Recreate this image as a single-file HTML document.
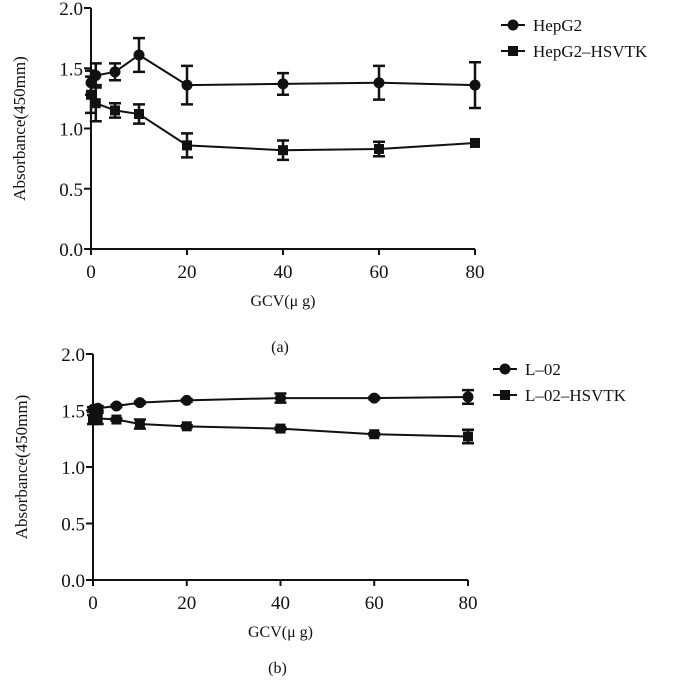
<!DOCTYPE html>
<html><head><meta charset="utf-8"><style>
body{margin:0;background:#fff;width:700px;height:691px;overflow:hidden}
svg text{font-family:"Liberation Serif",serif;fill:#111}
</style></head><body>
<svg id="chart" width="700" height="691"></svg>
<script>
const xs=[0,1,5,10,20,40,60,80];
const aHep=[1.38,1.44,1.47,1.61,1.36,1.37,1.38,1.36];
const aHepErr=[0.1,0.1,0.07,0.14,0.16,0.09,0.14,0.19];
const aTk=[1.28,1.21,1.15,1.12,0.86,0.82,0.83,0.88];
const aTkErr=[0.15,0.15,0.06,0.08,0.1,0.08,0.06,0];
const bL=[1.51,1.52,1.54,1.57,1.59,1.61,1.61,1.62];
const bLErr=[0.02,0.02,0.01,0.01,0.01,0.04,0.01,0.06];
const bTk=[1.42,1.43,1.42,1.38,1.36,1.34,1.29,1.27];
const bTkErr=[0.04,0.05,0.01,0.04,0.01,0.01,0.01,0.06];
const xTicks=[0,20,40,60,80];
const yTicks=[0,0.5,1.0,1.5,2.0];
const NS="http://www.w3.org/2000/svg";
const svg=document.getElementById('chart');
function el(tag,attrs,parent){const e=document.createElementNS(NS,tag);for(const k in attrs)e.setAttribute(k,attrs[k]);(parent||svg).appendChild(e);return e;}
function panel(p){
  const g=el('g',{});
  
  
  const X=v=>p.x0+(p.x1-p.x0)*v/80, Y=v=>p.y0+(p.y1-p.y0)*v/2;
  const ax=el('path',{d:`M${p.x0},${p.y1}V${p.y0}H${p.x1}`,stroke:'#111','stroke-width':2,fill:'none'},g);
  
  
  yTicks.forEach(t=>{el('line',{x1:p.x0-7,x2:p.x0,y1:Y(t),y2:Y(t),stroke:'#111','stroke-width':2},g);
    const tx=el('text',{x:p.x0-8,y:Y(t)+7,'text-anchor':'end','font-size':19},g);tx.textContent=t.toFixed(1);
    
    });
  xTicks.forEach(t=>{el('line',{x1:X(t),x2:X(t),y1:p.y0,y2:p.y0+6,stroke:'#111','stroke-width':2},g);
    const tx=el('text',{x:X(t),y:p.y0+29,'text-anchor':'middle','font-size':19},g);tx.textContent=t;
    
    });
  const yt=el('text',{transform:`translate(${p.x0-66},${(p.y0+p.y1)/2}) rotate(-90)`,'text-anchor':'middle','font-size':17},g);
  yt.textContent='Absorbance(450mm)';
  
  
  const xt=el('text',{x:(p.x0+p.x1)/2,y:p.y0+57,'text-anchor':'middle','font-size':16},g);
  xt.textContent='GCV(μ g)';
  
  
  const cap=el('text',{x:(p.x0+p.x1)/2-3,y:p.capY,'text-anchor':'middle','font-size':16},g);
  cap.textContent=p.cap;
  
  
  p.series.forEach((s,si)=>{
    const sg=el('g',{},g);
    
    
    el('polyline',{points:xs.map((x,i)=>X(x)+','+Y(s.v[i])).join(' '),fill:'none',stroke:'#111','stroke-width':2},sg);
    xs.forEach((x,i)=>{
      const cx=X(x),cy=Y(s.v[i]),e=s.e[i];
      if(e>0){const t=Y(s.v[i]+e),b=Y(s.v[i]-e);
        el('path',{d:`M${cx},${t}V${b}M${cx-6},${t}H${cx+6}M${cx-6},${b}H${cx+6}`,stroke:'#111','stroke-width':2.5,fill:'none'},sg);}
      const m=s.sq?el('rect',{x:cx-5,y:cy-5,width:10,height:10,fill:'#111'},sg):el('circle',{cx,cy,r:5.5,fill:'#111'},sg);
      
      
    });
    const ly=p.legY+si*26;
    const lg=el('g',{},g);
    
    
    el('line',{x1:p.legX,x2:p.legX+24,y1:ly,y2:ly,stroke:'#111','stroke-width':2},lg);
    if(s.sq)el('rect',{x:p.legX+7,y:ly-5,width:10,height:10,fill:'#111'},lg);else el('circle',{cx:p.legX+12,cy:ly,r:5.5,fill:'#111'},lg);
    const lt=el('text',{x:p.legX+32,y:ly+6,'font-size':17},lg);lt.textContent=s.label;
  });
}
panel({name:'panel-a',x0:91,x1:475,y0:249,y1:8,cap:'(a)',capY:352,legX:501,legY:25,
  series:[{label:'HepG2',v:aHep,e:aHepErr,sq:false},{label:'HepG2–HSVTK',v:aTk,e:aTkErr,sq:true}]});
panel({name:'panel-b',x0:93,x1:468,y0:580,y1:354,cap:'(b)',capY:673,legX:493,legY:369,
  series:[{label:'L–02',v:bL,e:bLErr,sq:false},{label:'L–02–HSVTK',v:bTk,e:bTkErr,sq:true}]});
</script>
</body></html>
